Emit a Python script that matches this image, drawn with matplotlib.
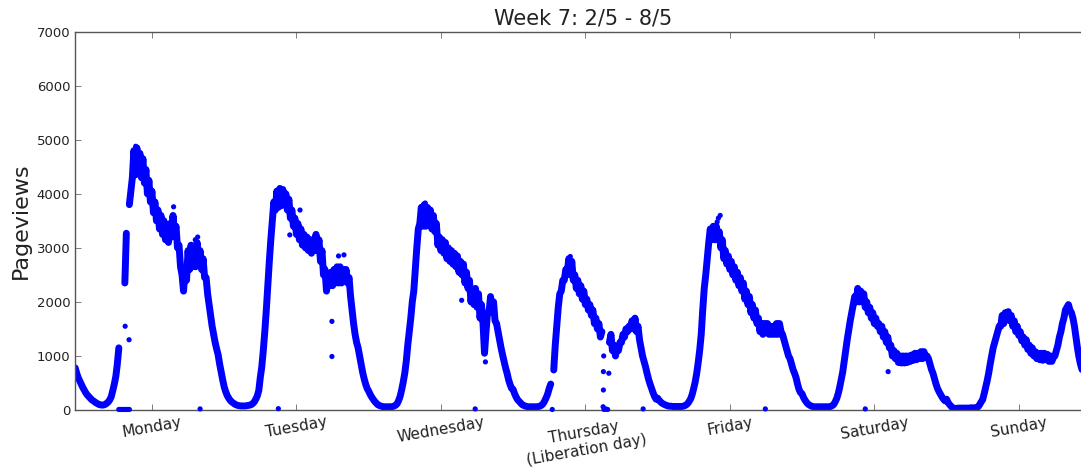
import numpy as np
import matplotlib
matplotlib.use("Agg")
import matplotlib.pyplot as plt

nan = np.nan

# Pageviews per 15 minutes, one row per hour (:00, :15, :30, :45)
sunday_before = [780, 680, 600]  # 23:15 - 23:45 the night before

monday = [
    540, 480, 420, 370,   320, 280, 250, 220,   190, 170, 150, 130,   115, 100, 95, 90,
    95, 105, 125, 150,    190, 250, 360, 480,   620, 850, 1150, nan,  nan, nan, 2350, 3270,
    nan, 3800, 4050, 4300,  4800, 4350, 4850, 4400,  4750, 4300, 4650, 4200,  4450, 4000, 4250, 3850,
    4050, 3650, 3850, 3500,  3700, 3350, 3600, 3250,  3500, 3150, 3400, 3100,  3450, 3200, 3600, 3250,
    3400, 3000, 3050, 2650,  2500, 2200, 2600, 2400,  2950, 2600, 3050, 2650,  3000, 2650, 3100, 2700,
    2950, 2600, 2800, 2450,  2450, 2150, 1950, 1750,  1550, 1400, 1250, 1130,  1020, 850, 700, 560,
]
tuesday = [
    430, 340, 270, 220,   180, 150, 130, 110,   95, 85, 80, 75,   75, 75, 75, 80,
    85, 90, 100, 120,     150, 200, 260, 360,   600, 800, 1100, 1450,  1850, 2300, 2750, 3150,
    3500, 3850, 3700, 4050,  3750, 4100, 3780, 4080,  3800, 4000, 3700, 3900,  3550, 3700, 3400, 3550,
    3250, 3450, 3150, 3350,  3050, 3250, 3000, 3200,  2950, 3150, 2900, 3150,  2950, 3250, 2950, 3150,
    2750, 2950, 2500, 2600,  2200, 2400, 2300, 2550,  2300, 2600, 2350, 2650,  2350, 2650, 2350, 2600,
    2450, 2600, 2350, 2450,  2100, 1850, 1600, 1400,  1250, 1150, 1000, 850,   700, 580, 480, 400,
]
wednesday = [
    350, 290, 240, 200,   160, 130, 100, 85,   75, 65, 60, 60,   60, 60, 60, 60,
    65, 75, 90, 120,      180, 260, 380, 520,  680, 900, 1200, 1450,  1700, 2000, 2200, 2600,
    3000, 3350, 3450, 3750,  3400, 3800, 3400, 3750,  3450, 3700, 3350, 3600,  3300, 3450, 3050, 3200,
    2950, 3150, 2900, 3100,  2800, 3000, 2750, 2950,  2700, 2900, 2650, 2850,  2550, 2750, 2500, 2700,
    2350, 2550, 2250, 2400,  2000, 2200, 1950, 2250,  1900, 2150, 1700, 1950,  1600, 1050, 1450, 1800,
    1800, 2100, 1850, 2000,  1650, 1600, 1450, 1300,  1150, 1020, 900, 780,   680, 560, 470, 400,
]
thursday = [
    380, 300, 240, 190,   160, 130, 100, 85,   75, 65, 60, 60,   60, 60, 60, 60,
    60, 65, 75, 90,       120, 170, 230, 300,  400, 480, nan, 740,  1200, 1550, 1900, 2150,
    2200, 2400, 2400, 2600,  2550, 2800, 2500, 2750,  2400, 2500, 2250, 2400,  2150, 2300, 2050, 2200,
    1950, 2050, 1850, 1950,  1750, 1850, 1600, 1700,  1500, 1600, 1350, 1450,  nan, nan, nan, nan,
    1250, 1400, 1100, 1200,  1000, 1150, 1100, 1250,  1250, 1400, 1350, 1500,  1450, 1550, 1500, 1650,
    1500, 1700, 1450, 1550,  1300, 1150, 1000, 900,   800, 680, 570, 480,    400, 320, 250, 200,
]
friday = [
    220, 180, 150, 125,   110, 95, 85, 75,   70, 70, 65, 65,   65, 65, 65, 65,
    65, 70, 80, 95,       120, 160, 210, 290,  400, 520, 680, 880,  1110, 1400, 1850, 2250,
    2500, 2800, 3100, 3350,  3150, 3400, 3150, 3400,  3150, 3300, 3000, 3150,  2800, 2950, 2700, 2850,
    2600, 2750, 2500, 2650,  2400, 2550, 2300, 2450,  2200, 2350, 2050, 2200,  1950, 2100, 1800, 1950,
    1700, 1850, 1600, 1700,  1450, 1600, 1400, 1600,  1450, 1600, 1400, 1550,  1400, 1550, 1400, 1600,
    1400, 1600, 1450, 1400,  1300, 1200, 1100, 1000,  950, 850, 750, 680,    600, 480, 380, 320,
]
saturday = [
    300, 230, 180, 140,   110, 90, 75, 65,   60, 60, 60, 60,   60, 60, 60, 60,
    60, 60, 60, 65,       80, 100, 150, 210,   300, 420, 560, 700,   900, 1100, 1300, 1480,
    1650, 1800, 1950, 2100,  2000, 2250, 2000, 2200,  2000, 2150, 1900, 2000,  1800, 1900, 1700, 1800,
    1600, 1700, 1550, 1600,  1450, 1550, 1350, 1450,  1250, 1350, 1150, 1200,  1000, 1100, 950, 1050,
    880, 1000, 870, 1000,    870, 1000, 880, 1000,    900, 1020, 920, 1050,    930, 1050, 950, 1080,
    950, 1080, 980, 1000,    950, 850, 750, 680,      580, 480, 400, 340,     290, 240, 200, 170,
]
sunday = [
    200, 140, 100, 70,   40, 30, 30, 30,   35, 35, 35, 35,   35, 35, 35, 35,
    40, 40, 40, 40,      45, 60, 100, 150,   190, 300, 420, 540,   680, 850, 1000, 1150,
    1250, 1350, 1450, 1550,  1550, 1750, 1600, 1800,  1700, 1820, 1650, 1750,  1550, 1650, 1450, 1550,
    1380, 1450, 1280, 1350,  1200, 1300, 1120, 1200,  1050, 1150, 1000, 1080,  950, 1050, 930, 1050,
    920, 1050, 930, 1030,    900, 1000, 900, 980,     1000, 1100, 1200, 1350,  1450, 1600, 1700, 1850,
    1900, 1950, 1850, 1800,  1700, 1550, 1350, 1150,  980, 850, 750, 650,     550, 450, 380, 320,
]
week = [monday, tuesday, wednesday, thursday, friday, saturday, sunday]

# Isolated readings (day index, hour, pageviews): drop-outs and spikes
stray_day = [0, 0, 0, 0, 0, 0, 0, 0, 0, 0, 0, 0, 0, 0, 0,
             1, 1, 1, 1, 1, 1, 1,
             2, 2, 2, 2,
             3, 3, 3, 3, 3, 3, 3, 3, 3, 3, 3,
             4, 4, 4, 4,
             5, 5]
stray_hour = [6.5, 6.75, 7.0, 7.25, 7.5, 7.75, 8.0, 8.25, 7.55, 8.2, 9.3, 15.6, 19.2, 19.6, 20.0,
              17.9, 17.9, 9.0, 10.9, 12.6, 19.0, 19.9,
              15.45, 17.7, 9.4, 19.4,
              6.5, 15.1, 15.4, 15.7, 21.6, 15.0, 15.0, 15.9, 9.5, 15.05, 14.95,
              9.9, 10.1, 10.4, 17.9,
              10.5, 14.3]
stray_views = [10, 10, 10, 10, 10, 10, 10, 10, 1550, 1300, 4880, 3760, 3150, 3200, 20,
               1640, 990, 25, 3240, 3700, 2850, 2870,
               2030, 20, 3830, 890,
               10, 10, 20, 10, 20, 710, 370, 680, 2840, 1000, 60,
               3480, 3550, 3600, 20,
               20, 710]

day_names = ["Monday", "Tuesday", "Wednesday", "Thursday\n(Liberation day)",
             "Friday", "Saturday", "Sunday"]

# time axis in days from Monday 00:00
t = np.concatenate([np.arange(-3, 0) / 96.0] +
                   [d + np.arange(len(v)) / 96.0 for d, v in enumerate(week)])
views = np.concatenate([sunday_before] + week).astype(float)
stray_t = np.array(stray_day) + np.array(stray_hour) / 24.0

fig = plt.figure(figsize=(10.81, 4.70), dpi=100)
ax = fig.add_axes([75 / 1081, 60 / 470, 1016 / 1081, 378.3 / 470])

ax.plot(t, views, color="#0000ff", lw=5, solid_joinstyle="round",
        solid_capstyle="round")
ax.scatter(stray_t, stray_views, s=14, color="#0000ff", edgecolors="none",
           zorder=3, clip_on=False)

ax.set_xlim(-0.0325, 7.0)
ax.set_ylim(0, 7000)
ax.set_yticks(range(0, 7001, 1000))
ax.set_xticks(np.arange(7) + 0.5)
ax.set_xticklabels(day_names, rotation=10, fontsize=11, color="#222222")
for lbl in ax.get_yticklabels():
    lbl.set_fontsize(9.5)
    lbl.set_color("#222222")

ax.tick_params(direction="in", top=True, right=True, length=4, width=0.6,
               color="#666666")
for sp in ax.spines.values():
    sp.set_color("#555555")
    sp.set_linewidth(1.0)

ax.set_ylabel("Pageviews", fontsize=16, color="#222222", labelpad=4)
ax.set_title("Week 7: 2/5 - 8/5", fontsize=15, color="#222222", pad=5)

fig.savefig("out.png", dpi=100, facecolor="white")
